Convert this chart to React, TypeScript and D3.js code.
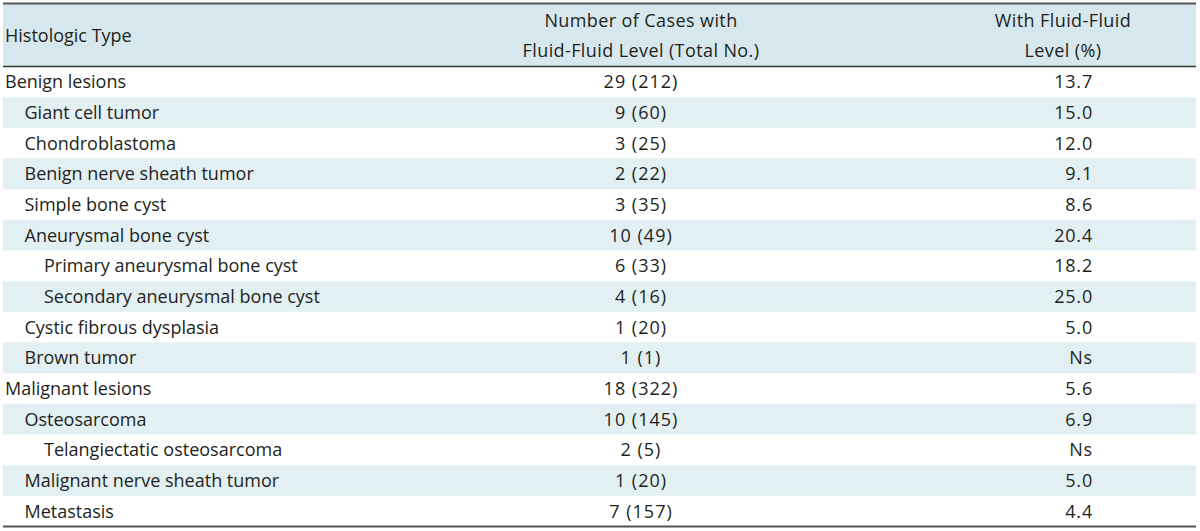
import React from "react";
import * as d3 from "d3";

const headers = ["Histologic Type", "Number of Cases with|Fluid-Fluid Level (Total No.)", "With Fluid-Fluid|Level (%)"];
const types = [
  "Benign lesions",
  "Giant cell tumor",
  "Chondroblastoma",
  "Benign nerve sheath tumor",
  "Simple bone cyst",
  "Aneurysmal bone cyst",
  "Primary aneurysmal bone cyst",
  "Secondary aneurysmal bone cyst",
  "Cystic fibrous dysplasia",
  "Brown tumor",
  "Malignant lesions",
  "Osteosarcoma",
  "Telangiectatic osteosarcoma",
  "Malignant nerve sheath tumor",
  "Metastasis",
];
const levels = [0, 1, 1, 1, 1, 1, 2, 2, 1, 1, 0, 1, 2, 1, 1];
const cases = [29, 9, 3, 2, 3, 10, 6, 4, 1, 1, 18, 10, 2, 1, 7];
const totals = [212, 60, 25, 22, 35, 49, 33, 16, 20, 1, 322, 145, 5, 20, 157];
const percents = ["13.7", "15.0", "12.0", "9.1", "8.6", "20.4", "18.2", "25.0", "5.0", "Ns", "5.6", "6.9", "Ns", "5.0", "4.4"];

const W = 1200;
const H = 531;
const FONT = "'Open Sans', sans-serif";

export default function App() {
  const left = 3;
  const right = 1196;
  const headTop = 4;
  const headBottom = 66.5;
  const bodyBottom = 526.5;
  const y = d3.scaleBand<number>().domain(d3.range(types.length)).range([headBottom, bodyBottom]);
  const indent = d3.scaleLinear().domain([0, 2]).range([5, 44]);
  const col2 = 641;
  const col3Head = 1063;
  const col3Right = 1093;
  const textColor = "#231f20";
  const fs = 18;
  return (
    <div style={{ position: "absolute", left: 0, top: 0 }}>
      <svg width={W} height={H} style={{ display: "block" }} fontFamily={FONT}>
        <rect x={0} y={0} width={W} height={H} fill="#ffffff" />
        <rect x={left} y={headTop} width={right - left} height={headBottom - headTop} fill="#d6e8ed" />
        {types.map((t, i) =>
          i % 2 === 1 ? (
            <rect key={"bg" + i} x={left} y={y(i)!} width={right - left} height={y.bandwidth()} fill="#e3f0f3" />
          ) : null
        )}
        <line x1={left} x2={right} y1={3.5} y2={3.5} stroke="#555" strokeWidth={2} />
        <line x1={left} x2={right} y1={headBottom} y2={headBottom} stroke="#333" strokeWidth={1.3} />
        <line x1={left} x2={right} y1={bodyBottom} y2={bodyBottom} stroke="#555" strokeWidth={2} />
        <g fill={textColor} fontSize={fs}>
          <text x={5} y={42}>{headers[0]}</text>
          {headers[1].split("|").map((s, k) => (
            <text key={"h1" + k} x={col2} y={27 + k * 30} textAnchor="middle" letterSpacing={0.4}>{s}</text>
          ))}
          {headers[2].split("|").map((s, k) => (
            <text key={"h2" + k} x={col3Head} y={27 + k * 30} textAnchor="middle" letterSpacing={0.4}>{s}</text>
          ))}
          {types.map((t, i) => {
            const by = y(i)! + y.bandwidth() / 2 + 6.5;
            return (
              <g key={"r" + i}>
                <text x={indent(levels[i])} y={by}>{t}</text>
                <text x={col2} y={by} textAnchor="middle" letterSpacing={1}>{`${cases[i]} (${totals[i]})`}</text>
                <text x={col3Right} y={by} textAnchor="end" letterSpacing={0.8}>{percents[i]}</text>
              </g>
            );
          })}
        </g>
      </svg>
    </div>
  );
}
